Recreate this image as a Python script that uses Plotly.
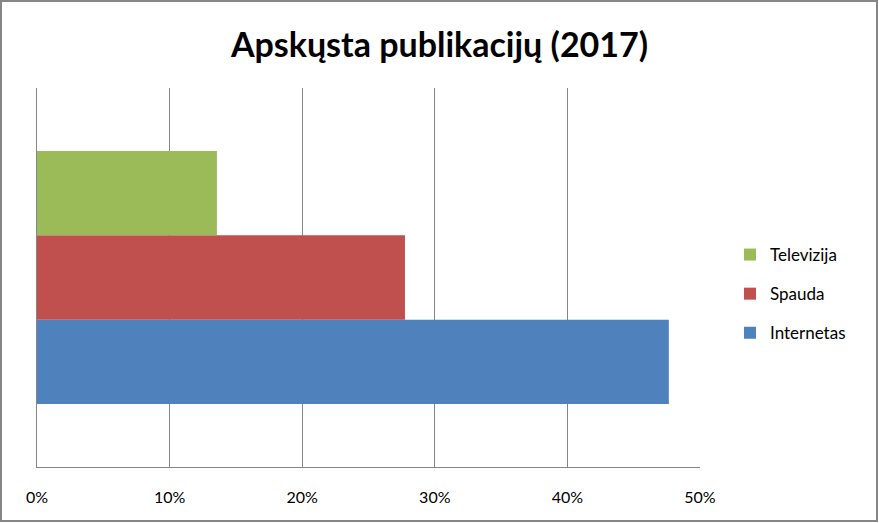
import plotly.graph_objects as go

categories = [""]
series_names = ["Internetas", "Spauda", "Televizija"]
series_values = [[0.4765], [0.2775], [0.1357]]
series_colors = ["#4F81BD", "#C0504D", "#9BBB59"]
tick_vals = [0, 0.1, 0.2, 0.3, 0.4, 0.5]
title_text = "Apskųsta publikacijų (2017)"

W, H = 879, 523
L, R, T, B = 37, 179, 88, 56

fig = go.Figure()
n = len(series_names)
for i, (name, vals, col) in enumerate(zip(series_names, series_values, series_colors)):
    fig.add_trace(go.Bar(y=categories, x=vals, name=name, orientation="h",
                         marker=dict(color=col, line=dict(width=0)),
                         legendgroup=name, legendrank=1000 + (n - i)))

pw = W - L - R
ph = H - T - B
fig.add_shape(type="rect", xref="paper", yref="paper",
              x0=(1 - L) / pw, x1=(W - 2 - L) / pw,
              y0=-(B - 2) / ph, y1=1 + (T - 1) / ph,
              line=dict(color="#868686", width=2), fillcolor="rgba(0,0,0,0)")

fig.update_layout(
    width=W, height=H,
    margin=dict(l=L, r=R, t=T, b=B),
    paper_bgcolor="white", plot_bgcolor="white",
    barmode="group", bargap=0.333, bargroupgap=0,
    title=dict(text=title_text, x=0.5, xref="container", xanchor="center",
               y=1 - 45 / H, yanchor="middle",
               font=dict(family="Lato", size=34, color="black", weight="bold")),
    font=dict(family="Lato", color="black"),
    legend=dict(traceorder="grouped", x=(730 - L) / pw, xanchor="left",
                y=0.5 + (ph / 2 - (294 - T)) / ph, yanchor="middle",
                font=dict(size=17), tracegroupgap=14,
                itemwidth=30, bgcolor="rgba(0,0,0,0)"),
    xaxis=dict(range=[0, 0.5], tickvals=tick_vals, tickformat=".0%",
               showgrid=True, gridcolor="#868686", gridwidth=1,
               showline=True, linecolor="#868686", linewidth=1,
               zeroline=False, ticks="", ticklabelstandoff=16,
               tickfont=dict(size=16, family="Lato")),
    yaxis=dict(showgrid=False, showline=True, linecolor="#868686", linewidth=1,
               showticklabels=False, ticks="", zeroline=False),
)

fig.write_html("out.html")
